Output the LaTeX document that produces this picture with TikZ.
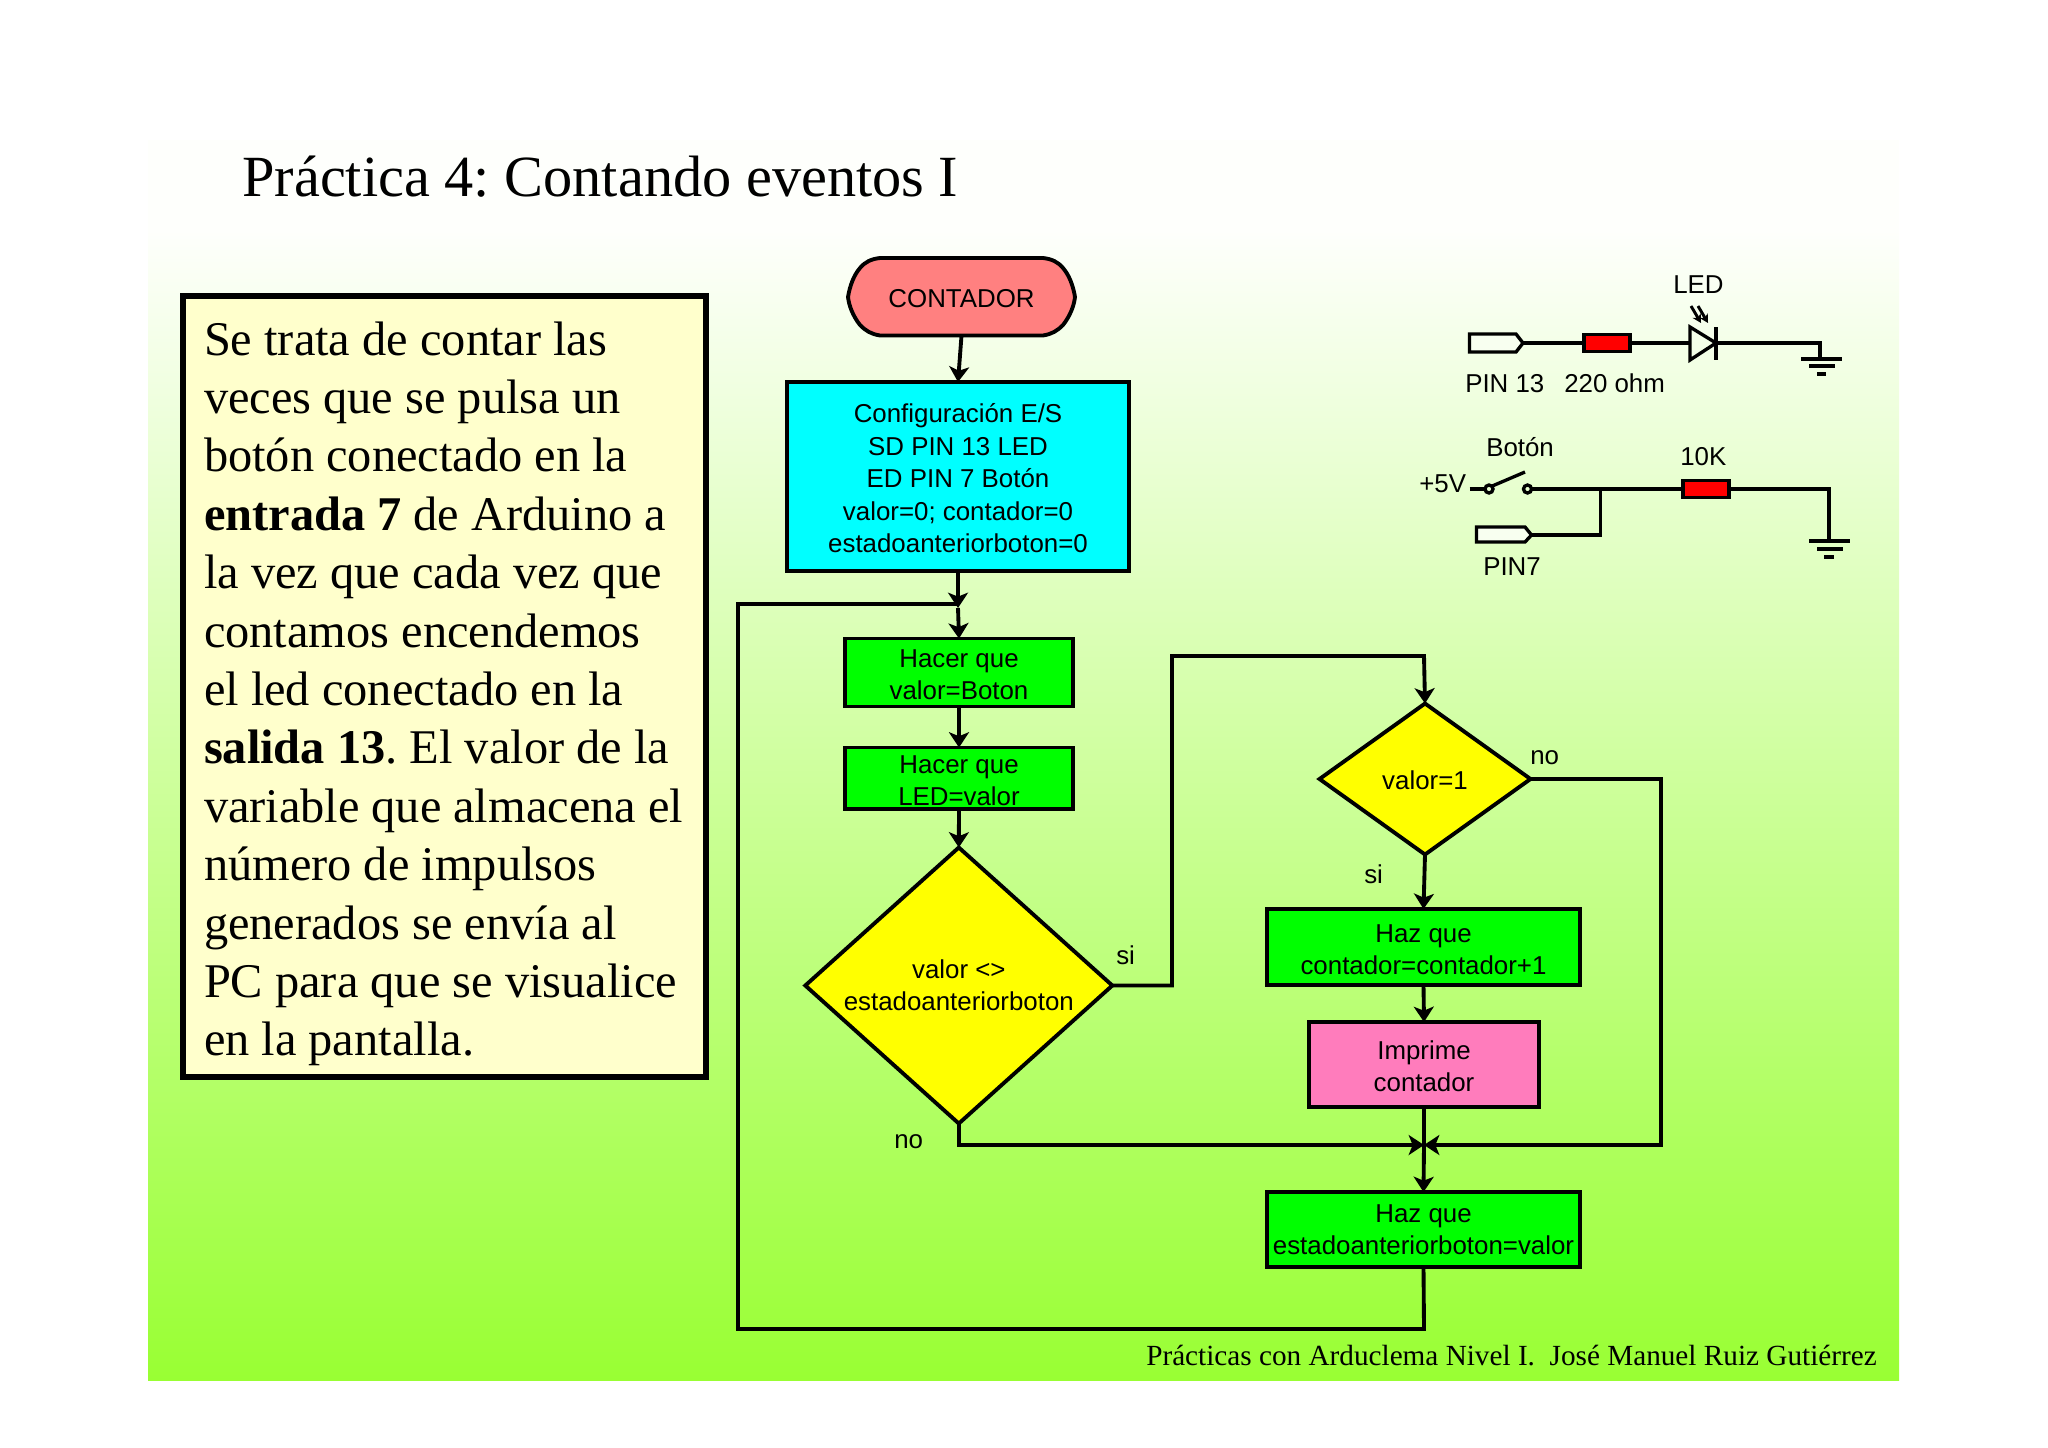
\documentclass[tikz,border=0pt]{standalone}
\usepackage{fontspec}
\setmainfont{Liberation Serif}
\setsansfont{Liberation Sans}
\usetikzlibrary{arrows.meta,shapes.geometric}
\frenchspacing
\newdimen\pxu \pxu=.75pt
\newcommand{\lns}[2]{\smash{\raisebox{-#1\pxu}{\begin{tabular}[t]{@{}c@{}}#2\end{tabular}}}}
\newcommand{\lnl}[2]{\smash{\raisebox{-#1\pxu}{\begin{tabular}[t]{@{}p{359.25pt}@{}}#2\end{tabular}}}}
\definecolor{bgbot}{RGB}{153,255,51}
\definecolor{bgtop}{RGB}{254,255,252}
\definecolor{notecol}{RGB}{255,255,204}
\definecolor{termcol}{RGB}{255,128,128}
\definecolor{pinkcol}{RGB}{255,124,188}
\definecolor{cyanfc}{RGB}{0,255,255}
\definecolor{yellowfc}{RGB}{255,255,0}
\definecolor{greenfc}{RGB}{0,255,0}
\definecolor{redfc}{RGB}{255,0,0}
\definecolor{pinbg}{RGB}{248,255,240}
\tikzset{
  x=.75pt,y=-.75pt,
  fctext/.style={font=\sffamily\fontsize{19.4}{24.4}\selectfont},
  flowbox/.style={draw=black,line width=2.9pt,rectangle,inner sep=0pt,outer sep=0pt,fctext},
  flowdia/.style={draw=black,line width=2.9pt,diamond,aspect=1,inner sep=0pt,outer sep=0pt,fill=yellowfc,fctext},
  grn/.style={flowbox,fill=greenfc},
  flowline/.style={line width=2.9pt,draw=black,line join=miter},
  flowarrow/.style={flowline,-{Stealth[length=11.5pt,width=15pt,inset=3pt]}},
  wire/.style={line width=2.5pt,draw=black,line join=miter},
  res/.style={draw=black,line width=2.5pt,fill=redfc,rectangle,inner sep=0pt,outer sep=0pt},
  lab/.style={anchor=base west,inner sep=0pt,fctext},
  pinfill/.style={draw=black,line width=2.5pt,fill=pinbg,line join=miter},
}
\begin{document}
\begin{tikzpicture}
\useasboundingbox (0,0) rectangle (2048,1447);
\fill[bgtop] (148,140) rectangle (1899,231);
\shade[top color=bgtop,bottom color=bgbot] (148,230) rectangle (1899,1380);

% title and footer
\node[anchor=base west,inner sep=0pt,font=\fontsize{43.75}{50}\selectfont] (title) at (242,196) {Práctica 4: Contando eventos I};
\node[anchor=base west,inner sep=0pt,font=\fontsize{21.92}{26}\selectfont] (foot) at (1146,1365) {Prácticas con Arduclema Nivel I.\ \ José Manuel Ruiz Gutiérrez};

% explanation box
\node[draw=black,line width=4pt,fill=notecol,rectangle,inner sep=0pt,outer sep=0pt,minimum width=523\pxu,minimum height=781\pxu,font=\fontsize{36.3}{43.8}\selectfont] (note) at (444.5,686.5) {\hspace{-1.5pt}\lnl{-331.5}{Se trata de contar las\\veces que se pulsa un\\botón conectado en la\\\textbf{entrada 7} de Arduino a\\la vez que cada vez que\\contamos encendemos\\el led conectado en la\\\textbf{salida 13}. El valor de la\\variable que almacena el\\número de impulsos\\generados se envía al\\PC para que se visualice\\en la pantalla.}};

% flowchart nodes
\fill[termcol,draw=black,line width=2.9pt,line join=round]
  (880,258) -- (1043,258)
  .. controls (1052,259) and (1058,262) .. (1063,268)
  .. controls (1069,275) and (1073,285) .. (1075,297)
  .. controls (1074,306) and (1070,316) .. (1063,325)
  .. controls (1057,331) and (1052,334) .. (1043,335.5)
  -- (880,335.5)
  .. controls (871,334) and (866,331) .. (860,325)
  .. controls (853,316) and (849,306) .. (848,297)
  .. controls (850,285) and (854,275) .. (860,268)
  .. controls (865,262) and (871,259) .. (880,258) -- cycle;
\node[rectangle,inner sep=0pt,outer sep=0pt,fctext,minimum width=227\pxu,minimum height=77.5\pxu] (start) at (961.5,296.8) {\lns{11}{CONTADOR}};
\node[flowbox,fill=cyanfc,minimum width=342\pxu,minimum height=189\pxu] (cfg) at (958,476.5) {\lns{-54}{Configuración E/S\\SD PIN 13 LED\\ED PIN 7 Botón\\valor=0; contador=0\\estadoanteriorboton=0}};
\node[grn,minimum width=228\pxu,minimum height=68\pxu] (h1) at (959,672.5) {\lns{-5.5}{Hacer que\\valor=Boton}};
\node[grn,minimum width=228\pxu,minimum height=61.5\pxu] (h2) at (959,778.3) {\lns{-5.3}{Hacer que\\LED=valor}};
\node[flowdia,minimum width=307\pxu,minimum height=276\pxu] (d1) at (958.8,985.5) {\lns{-7.5}{valor <>\\estadoanteriorboton}};
\node[flowdia,minimum width=211\pxu,minimum height=151\pxu] (d2) at (1425,779) {\lns{10}{valor=1}};
\node[grn,minimum width=313\pxu,minimum height=76\pxu] (hz1) at (1423.5,947) {\lns{-5}{Haz que\\contador=contador+1}};
\node[flowbox,fill=pinkcol,minimum width=230\pxu,minimum height=85\pxu] (imp) at (1424,1064.5) {\lns{-5.5}{Imprime\\contador}};
\node[grn,minimum width=313\pxu,minimum height=74.5\pxu] (hz2) at (1423.5,1229.3) {\lns{-7}{Haz que\\estadoanteriorboton=valor}};

% junctions
\coordinate (jt) at (958,608);
\coordinate (jm) at (1424,1145);

% flow connectors
\draw[flowarrow] (start.south) -- (cfg.north);
\draw[flowarrow] (cfg.south) -- (jt);
\draw[flowarrow] (jt) -- (h1.north);
\draw[flowarrow] (h1.south) -- (h2.north);
\draw[flowarrow] (h2.south) -- (d1.north);
\draw[flowarrow] (d1.east) -- (1172,985.5) -- (1172,656) -- (1424,656) -- (d2.north);
\draw[flowarrow] (d2.south) -- (hz1.north);
\draw[flowarrow] (hz1.south) -- (imp.north);
\draw[flowline] (imp.south) -- (jm);
\draw[flowarrow] (jm) -- (hz2.north);
\draw[flowarrow] (d1.south) -- (958.8,1145) -- (jm);
\draw[flowarrow] (d2.east) -- (1661,779) -- (1661,1145) -- (jm);
\draw[flowline] (hz2.south) -- (1424,1329) -- (738,1329) -- (738,604) -- (958,604);

% flow labels
\node[lab] (l1) at (1116,964) {si};
\node[lab] (l2) at (894,1148) {no};
\node[lab] (l3) at (1530,764) {no};
\node[lab] (l4) at (1364,883) {si};

% LED circuit
\draw[pinfill] (1469.5,334) -- (1516,334) -- (1523,343) -- (1516,352) -- (1469.5,352) -- cycle;
\coordinate (pintip) at (1523,343);
\node[res,minimum width=46\pxu,minimum height=17\pxu] (r1) at (1607,343) {};
\coordinate (ledl) at (1690,343);
\coordinate (ledr) at (1716,343);
\coordinate (gnd1) at (1820,359);
\draw[wire] (pintip) -- (r1.west);
\draw[wire] (r1.east) -- (ledl);
\draw[wire] (1690,327) -- (1716,343) -- (1690,360) -- cycle;
\draw[wire] (1716,327) -- (1716,360);
\draw[wire] (ledr) -- (1820,343) -- (gnd1);
\draw[wire] (1801,359) -- (1842,359);
\draw[wire] (1809,366) -- (1835,366);
\draw[wire] (1817,374) -- (1826,374);
\draw[line width=2.2pt,-{Stealth[length=6.5pt,width=7pt]}] (1691,306) -- (1701,323);
\draw[line width=2.2pt,-{Stealth[length=6.5pt,width=7pt]}] (1698,306) -- (1708,323);

% switch circuit
\node[draw=black,line width=2.5pt,circle,inner sep=0pt,outer sep=0pt,minimum size=8\pxu] (s1) at (1489,489) {};
\node[draw=black,line width=2.5pt,circle,inner sep=0pt,outer sep=0pt,minimum size=8\pxu] (s2) at (1527.5,489) {};
\coordinate (vcc) at (1469.5,489);
\coordinate (blade) at (1525,472);
\coordinate (br) at (1600.5,489);
\coordinate (gnd2) at (1829,541);
\coordinate (pin7) at (1531.5,535);
\node[res,minimum width=46\pxu,minimum height=17\pxu] (r2) at (1706,489) {};
\draw[wire] (vcc) -- (s1.west);
\draw[wire] (s1.north east) -- (blade);
\draw[wire] (s2.east) -- (r2.west);
\draw[wire] (r2.east) -- (1829,489) -- (gnd2);
\draw[wire] (br) -- (1600.5,535) -- (pin7);
\draw[pinfill] (1476.5,527) -- (1525,527) -- (1531.5,535) -- (1525,542) -- (1476.5,542) -- cycle;
\draw[wire] (1809,541) -- (1850,541);
\draw[wire] (1817,549) -- (1843,549);
\draw[wire] (1824,557) -- (1834,557);

% circuit labels
\node[lab] (c1) at (1673,293) {LED};
\node[lab] (c2) at (1465,392) {PIN 13};
\node[lab] (c3) at (1564,392) {220 ohm};
\node[lab] (c4) at (1486,456) {Botón};
\node[lab] (c5) at (1680,465) {10K};
\node[lab] (c6) at (1419,492) {+5V};
\node[lab] (c7) at (1483,575) {PIN7};
\end{tikzpicture}
\end{document}
